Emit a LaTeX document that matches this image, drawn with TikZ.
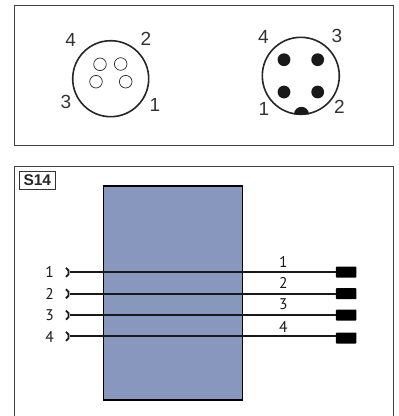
\documentclass[tikz,border=0pt]{standalone}
\usepackage{fontspec}
\setmainfont{Liberation Sans}
\newfontfamily\din{PT Sans}
\definecolor{bluefill}{HTML}{8797BE}
\tikzset{
 panelline/.style={draw=black!75,line width=1pt},
 shell/.style={circle,draw=black!85,line width=1.6pt,inner sep=0pt,minimum size=76pt},
 femalepin/.style={circle,draw=black!85,line width=0.7pt,inner sep=0pt,minimum size=12.6pt},
 malepin/.style={circle,fill=black!90,inner sep=0pt,minimum size=12.8pt},
 pinlabel/.style={font=\fontsize{19}{20}\selectfont,text=black!80,inner sep=0pt},
 wirelabel/.style={font=\din\fontsize{15.5}{16}\selectfont,text=black!90,inner sep=0pt},
 plug/.style={fill=black,rounded corners=0.8pt,minimum width=20.5pt,minimum height=11pt,inner sep=0pt},
 wire/.style={line width=1.8pt,black!90},
 sock/.style={line width=1.8pt,black!90},
}
\begin{document}
\begin{tikzpicture}[x=1pt,y=-1pt]
\useasboundingbox (0,0) rectangle (399,416);
\fill[white] (0,0) rectangle (399,416);
% panels
\draw[panelline] (14.7,5.7) rectangle (393.7,145);
\draw[panelline] (14.7,416) -- (14.7,166.7) -- (393.7,166.7) -- (393.7,416);
% left connector
\node[shell] (lc) at (110.7,78.7) {};
\node[femalepin] (f1) at (100,64.3) {};
\node[femalepin] (f2) at (120.7,64) {};
\node[femalepin] (f3) at (96,81.7) {};
\node[femalepin] (f4) at (125.7,81.7) {};
\node[pinlabel] (l4) at (70.7,40) {4};
\node[pinlabel] (l2) at (146,38.7) {2};
\node[pinlabel] (l3) at (66,102) {3};
\node[pinlabel] (l1) at (155,105) {1};
% right connector
\node[shell,minimum size=77pt] (rc) at (300.8,75.8) {};
\node[malepin] (m1) at (284,59.7) {};
\node[malepin] (m2) at (317.7,59.7) {};
\node[malepin] (m3) at (284,92) {};
\node[malepin] (m4) at (317.7,92) {};
\fill[black!90] (294,114.3) arc[start angle=-180,end angle=0,x radius=7.5,y radius=7.5] -- cycle;
\node[pinlabel] (r4) at (263.3,37.3) {4};
\node[pinlabel] (r3) at (337,35.7) {3};
\node[pinlabel] (r1) at (264,109.3) {1};
\node[pinlabel] (r2) at (339.3,107.3) {2};
% S14
\node[draw=black!80,line width=0.8pt,minimum width=36.7pt,minimum height=18.3pt,inner sep=0pt,font=\bfseries\fontsize{15.5}{16}\selectfont,text=black!85] (s14) at (37.3,180.2) {S14};
% body
\node[draw=black,fill=bluefill,line width=1.5pt,minimum width=139pt,minimum height=214pt,inner sep=0pt] (body) at (172.8,293) {};
% plugs
\node[plug] (p1) at (346.2,272) {};
\node[plug] (p2) at (346.2,293.7) {};
\node[plug] (p3) at (346.2,315) {};
\node[plug] (p4) at (346.2,338) {};
% sockets and wires
\foreach \n/\y in {1/272.3,2/293.7,3/315,4/336.3}{
 \coordinate (s\n) at (69.5,\y);
 \draw[wire] (s\n) -- (p\n.west |- s\n);
 \draw[sock] (66,\y-4.5) arc[start angle=-65,end angle=65,radius=5];
}
% labels
\node[wirelabel] (a1) at (49.7,272) {1};
\node[wirelabel] (a2) at (49.7,294) {2};
\node[wirelabel] (a3) at (49.7,315) {3};
\node[wirelabel] (a4) at (49.7,336.7) {4};
\node[wirelabel] (b1) at (283.3,262.3) {1};
\node[wirelabel] (b2) at (283.3,283) {2};
\node[wirelabel] (b3) at (283.3,304.3) {3};
\node[wirelabel] (b4) at (283.3,326.7) {4};
\end{tikzpicture}
\end{document}
